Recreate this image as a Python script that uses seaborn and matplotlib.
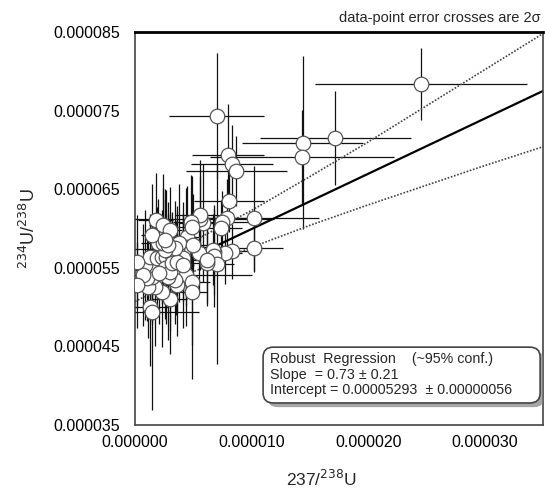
import numpy as np
import pandas as pd
import matplotlib
matplotlib.use("Agg")
import matplotlib.pyplot as plt
import matplotlib.patches as mpatches
import matplotlib.patheffects as pe
from matplotlib.ticker import MultipleLocator, FormatStrFormatter
import seaborn as sns

# ---------------------------------------------------------------
# data (values in units of 1e-6)
# ---------------------------------------------------------------
ratio_237 = [24.5, 7.0, 17.2, 14.4, 14.3, 8.0, 8.3, 8.7, 8.1, 10.2, 10.2, 8.3, 7.7, 7.9, 7.5, 7.4,
             6.8, 6.7, 6.8, 7.0, 6.2, 5.5, 5.8, 5.6, 5.6, 4.8, 4.5, 4.4, 4.1, 3.6, 3.8, 3.5,
             4.4, 4.1, 4.9, 4.9, 3.0, 3.6, 3.4, 2.8, 2.3, 1.7, 1.1, 1.5, 1.5, 1.0, 0.9, 1.3,
             1.9, 2.3, 2.7, 3.2, 2.6, 3.0, 2.1, 3.2, 3.6, 4.1, 3.4, 2.6, 2.0, 2.4, 2.8, 1.5,
             1.8, 2.4, 3.0, 2.6, 1.3, 1.5, 4.9, 6.2, 5.0, 0.7, 0.2, 0.2]
ratio_234 = [78.4, 74.3, 71.5, 70.9, 69.1, 69.4, 68.2, 67.3, 63.5, 61.3, 57.5, 57.1, 56.9, 61.3, 60.8, 60.1,
             57.0, 57.3, 56.5, 55.5, 55.6, 56.9, 60.7, 61.2, 61.7, 60.8, 58.9, 57.6, 57.0, 57.4, 58.2, 55.0,
             54.1, 56.2, 53.2, 51.9, 51.0, 52.8, 53.4, 53.8, 51.9, 52.6, 52.6, 53.8, 54.7, 53.7, 55.4, 56.4,
             56.2, 56.4, 56.4, 56.6, 55.0, 54.5, 54.3, 55.6, 55.7, 55.4, 57.5, 57.3, 58.2, 58.2, 57.9, 59.2,
             61.1, 60.4, 59.8, 58.5, 50.0, 49.4, 60.2, 56.0, 57.9, 54.1, 52.8, 55.7]
err_237 = [9.1, 4.1, 6.5, 5.2, 7.9, 3.1, 3.5, 4.3, 3.0, 5.6, 2.5, 2.3, 1.5, 2.0, 2.5, 1.8,
           1.5, 1.2, 2.0, 1.5, 1.3, 2.5, 2.0, 6.3, 2.2, 1.5, 1.2, 1.8, 1.0, 4.0, 1.2, 1.0,
           5.6, 1.2, 1.5, 1.3, 1.5, 1.0, 1.2, 1.0, 1.3, 1.0, 1.2, 1.0, 1.5, 1.0, 1.0, 1.2,
           1.0, 1.5, 1.0, 1.2, 1.0, 1.5, 1.0, 1.0, 1.3, 1.0, 1.2, 1.0, 1.5, 1.0, 1.2, 1.0,
           1.5, 1.2, 1.0, 1.3, 1.5, 4.0, 1.2, 1.5, 1.2, 1.0, 1.0, 1.2]
err_234 = [4.6, 8.0, 6.0, 11.0, 6.0, 6.5, 5.0, 4.5, 4.0, 6.7, 3.0, 3.5, 4.0, 5.0, 4.0, 3.5,
           5.5, 4.5, 6.5, 12.8, 5.5, 5.0, 7.5, 5.5, 7.0, 6.0, 6.5, 7.5, 5.0, 5.5, 7.5, 6.0,
           6.5, 5.5, 8.0, 11.0, 7.0, 6.5, 5.5, 8.0, 7.0, 7.5, 6.5, 6.0, 6.5, 5.5, 7.0, 5.5,
           6.5, 6.0, 8.5, 5.5, 6.5, 7.5, 6.5, 5.5, 6.5, 8.0, 6.0, 6.5, 5.5, 7.0, 5.5, 6.5,
           6.0, 6.5, 5.5, 6.5, 7.5, 12.5, 6.5, 5.5, 6.5, 6.5, 5.5, 6.0]

# regression line and ~95% confidence band
fit_x = [0, 35]
fit_y = [52.9, 77.5]
band_x = [0, 5, 10, 15, 20, 25, 30, 35]
band_hi = [55.1, 58.4, 62.3, 66.6, 71.0, 75.6, 80.2, 84.8]
band_lo = [50.7, 54.5, 57.6, 60.4, 63.0, 65.5, 68.0, 70.4]

scale = 1e-6
df = pd.DataFrame({"x": np.array(ratio_237) * scale, "y": np.array(ratio_234) * scale,
                   "xe": np.array(err_237) * scale, "ye": np.array(err_234) * scale})

# ---------------------------------------------------------------
# plotting
# ---------------------------------------------------------------
sns.set_theme(style="white")
plt.rcParams['font.family'] = ['Liberation Sans', 'DejaVu Sans']

fig = plt.figure(figsize=(5.45, 4.9), dpi=100)
ax = fig.add_axes([0.2477, 0.1327, 0.7486, 0.802])

ax.errorbar(df["x"], df["y"], xerr=df["xe"], yerr=df["ye"], fmt="none",
            ecolor="#111111", elinewidth=0.9, capsize=0, zorder=1)

ax.plot(np.array(fit_x) * scale, np.array(fit_y) * scale, color="black", lw=1.6, zorder=2)
ax.plot(np.array(band_x) * scale, np.array(band_hi) * scale, color="#444444", lw=1.2, ls=(0, (1, 1)), zorder=2)
ax.plot(np.array(band_x) * scale, np.array(band_lo) * scale, color="#444444", lw=1.2, ls=(0, (1, 1)), zorder=2)

sns.scatterplot(data=df, x="x", y="y", ax=ax, s=110, color="white",
                edgecolor="#555555", linewidth=0.9, zorder=3, legend=False)

ax.set_xlim(0, 35e-6)
ax.set_ylim(35e-6, 85e-6)
ax.xaxis.set_major_locator(MultipleLocator(10e-6))
ax.xaxis.set_minor_locator(MultipleLocator(5e-6))
ax.set_yticks([35e-6, 45e-6, 55e-6, 65e-6, 75e-6, 85e-6])
ax.set_yticks([40e-6, 50e-6, 60e-6, 70e-6, 80e-6], minor=True)
ax.xaxis.set_major_formatter(FormatStrFormatter('%.6f'))
ax.yaxis.set_major_formatter(FormatStrFormatter('%.6f'))
ax.tick_params(which="both", direction="in", length=5, width=0.8, color="#555555",
               labelsize=11.5, labelcolor="black")
ax.tick_params(axis="y", pad=11)
ax.tick_params(axis="x", pad=7)

for side in ["left", "bottom", "right"]:
    ax.spines[side].set_color("#444444")
    ax.spines[side].set_linewidth(1.2)
ax.spines["top"].set_color("black")
ax.spines["top"].set_linewidth(2)

ax.set_xlabel("237/$^{238}$U", fontsize=12.5)
ax.set_ylabel("$^{234}$U/$^{238}$U", fontsize=13)
ax.xaxis.set_label_coords(0.456, -0.112)
ax.yaxis.set_label_coords(-0.235, 0.5)

ax.text(0.995, 1.018, "data-point error crosses are 2σ", transform=ax.transAxes,
        ha="right", va="bottom", fontsize=10.5)

box = mpatches.FancyBboxPatch((0.314, 0.056), 0.679, 0.142,
                              boxstyle="round,pad=0,rounding_size=0.025",
                              transform=ax.transAxes, facecolor="white",
                              edgecolor="#444444", linewidth=1.2, zorder=4,
                              path_effects=[pe.withSimplePatchShadow(offset=(3, -3),
                                                                     shadow_rgbFace="gray", alpha=0.7)])
ax.add_patch(box)
ax.text(0.331, 0.186, "Robust  Regression    (~95% conf.)\nSlope  = 0.73 ± 0.21\n"
        "Intercept = 0.00005293  ± 0.00000056", transform=ax.transAxes,
        ha="left", va="top", fontsize=10.3, linespacing=1.15, zorder=5)

plt.savefig("out.png", dpi=100)
